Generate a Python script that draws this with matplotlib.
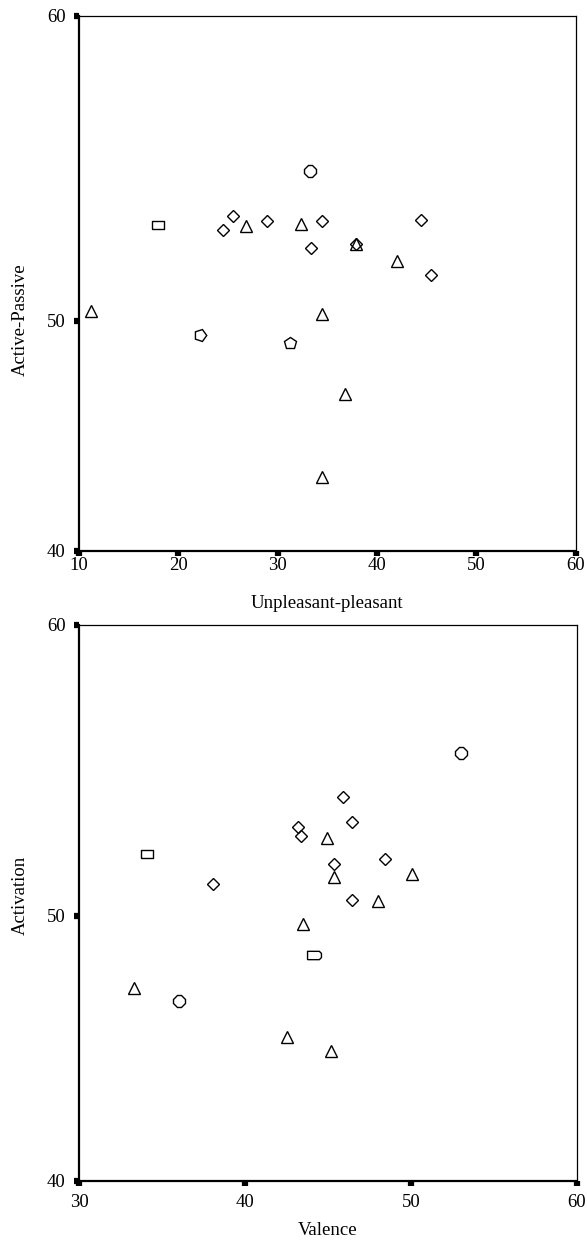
import numpy as np
import matplotlib.pyplot as plt
from matplotlib.ticker import FixedLocator

plt.rcParams["font.family"] = ["Liberation Serif", "DejaVu Serif"]

# ---- data: upper panel (Unpleasant-pleasant vs Active-Passive) ----
top_tri_x = [26.8, 32.3, 37.84, 42.02, 11.2, 34.42, 36.76, 34.42]
top_tri_y = [53.11, 53.18, 52.51, 51.97, 50.33, 50.21, 46.8, 43.2]
top_dia_x = [25.52, 24.46, 28.94, 34.42, 44.38, 33.31, 37.84, 45.48]
top_dia_y = [53.44, 52.98, 53.28, 53.28, 53.31, 52.37, 52.51, 51.49]
top_sq_x = [17.95]
top_sq_y = [53.15]
top_oct_x = [33.27]
top_oct_y = [54.90]
top_pent_r_x = [22.2]
top_pent_r_y = [49.36]
top_pent_x = [31.26]
top_pent_y = [49.04]

# ---- data: lower panel (Valence vs Activation) ----
bot_tri_x = [44.94, 50.08, 45.38, 47.99, 43.51, 33.3, 42.55, 45.16]
bot_tri_y = [52.68, 51.43, 51.33, 50.52, 49.70, 47.28, 45.42, 44.89]
bot_dia_x = [45.92, 46.46, 43.17, 43.37, 48.45, 45.38, 38.07, 46.46]
bot_dia_y = [54.08, 53.22, 53.07, 52.76, 51.96, 51.79, 51.11, 50.55]
bot_sq_x = [34.08]
bot_sq_y = [52.13]
bot_rect_x = [44.14]
bot_rect_y = [48.53]
bot_oct_x = [36.02, 53.01]
bot_oct_y = [46.79, 55.60]

y_ticks = [40, 50, 60]

rect_marker = [(-1, -0.75), (1, -0.75), (1, 0.75), (-1, 0.75), (-1, -0.75)]
wide_marker = [(-1, -0.6), (0.7, -0.6), (1, -0.3), (1, 0.3), (0.7, 0.6), (-1, 0.6), (-1, -0.6)]


def make_scale(frac):
    """Кусочно-линейная шкала: 40..50 занимает долю frac высоты"""
    def forward(y):
        y = np.asarray(y, dtype=float)
        return np.where(y < 50, (y - 40) / 10 * frac, frac + (y - 50) / 10 * (1 - frac))

    def inverse(v):
        v = np.asarray(v, dtype=float)
        return np.where(v < frac, 40 + v / frac * 10, 50 + (v - frac) / (1 - frac) * 10)

    return forward, inverse


def style_axes(ax, xlim, xticks, xlabel, ylabel, frac, xpad, xlabelpad, ylabel_y):
    ax.set_yscale("function", functions=make_scale(frac))
    ax.set_xlim(*xlim)
    ax.set_ylim(40, 60)
    ax.xaxis.set_major_locator(FixedLocator(xticks))
    ax.yaxis.set_major_locator(FixedLocator(y_ticks))
    ax.yaxis.set_minor_locator(FixedLocator([]))
    ax.set_xticklabels([str(t) for t in xticks])
    ax.set_yticklabels([str(t) for t in y_ticks])
    ax.tick_params(direction="out", length=3.6, width=4.5, color="black",
                   labelsize=13.5)
    ax.tick_params(axis="x", pad=xpad)
    ax.tick_params(axis="y", pad=6)
    for side in ["left", "bottom"]:
        ax.spines[side].set_linewidth(1.6)
    for side in ["top", "right"]:
        ax.spines[side].set_linewidth(0.9)
    ax.set_xlabel(xlabel, fontsize=13.5, labelpad=xlabelpad)
    ax.set_ylabel(ylabel, fontsize=13.5, labelpad=13)
    ax.yaxis.label.set_y(ylabel_y)


def scatter_groups(ax, groups):
    for xs, ys, marker, size in groups:
        ax.plot(xs, ys, linestyle="none", marker=marker, markersize=size,
                markerfacecolor="none", markeredgecolor="black",
                markeredgewidth=1.0)


fig = plt.figure(figsize=(5.87, 12.4), dpi=100)

ax1 = fig.add_axes([0.1346, 0.5559, 0.8461, 0.4314])
scatter_groups(ax1, [
    (top_tri_x, top_tri_y, "^", 8),
    (top_dia_x, top_dia_y, "D", 6),
    (top_sq_x, top_sq_y, rect_marker, 8),
    (top_oct_x, top_oct_y, "8", 9),
    (top_pent_r_x, top_pent_r_y, (5, 0, -90), 9),
    (top_pent_x, top_pent_y, "p", 9),
])
style_axes(ax1, (10, 60), [10, 20, 30, 40, 50, 60],
           "Unpleasant-pleasant", "Active-Passive", 230 / 535,
           xpad=1, xlabelpad=15, ylabel_y=0.432)

ax2 = fig.add_axes([0.1346, 0.0476, 0.8484, 0.4484])
scatter_groups(ax2, [
    (bot_tri_x, bot_tri_y, "^", 8),
    (bot_dia_x, bot_dia_y, "D", 6),
    (bot_sq_x, bot_sq_y, rect_marker, 8),
    (bot_rect_x, bot_rect_y, wide_marker, 10),
    (bot_oct_x, bot_oct_y, "8", 9),
])
style_axes(ax2, (30, 60), [30, 40, 50, 60],
           "Valence", "Activation", 265 / 556,
           xpad=6, xlabelpad=8, ylabel_y=0.513)

fig.savefig("out.png", dpi=100)
plt.close(fig)
